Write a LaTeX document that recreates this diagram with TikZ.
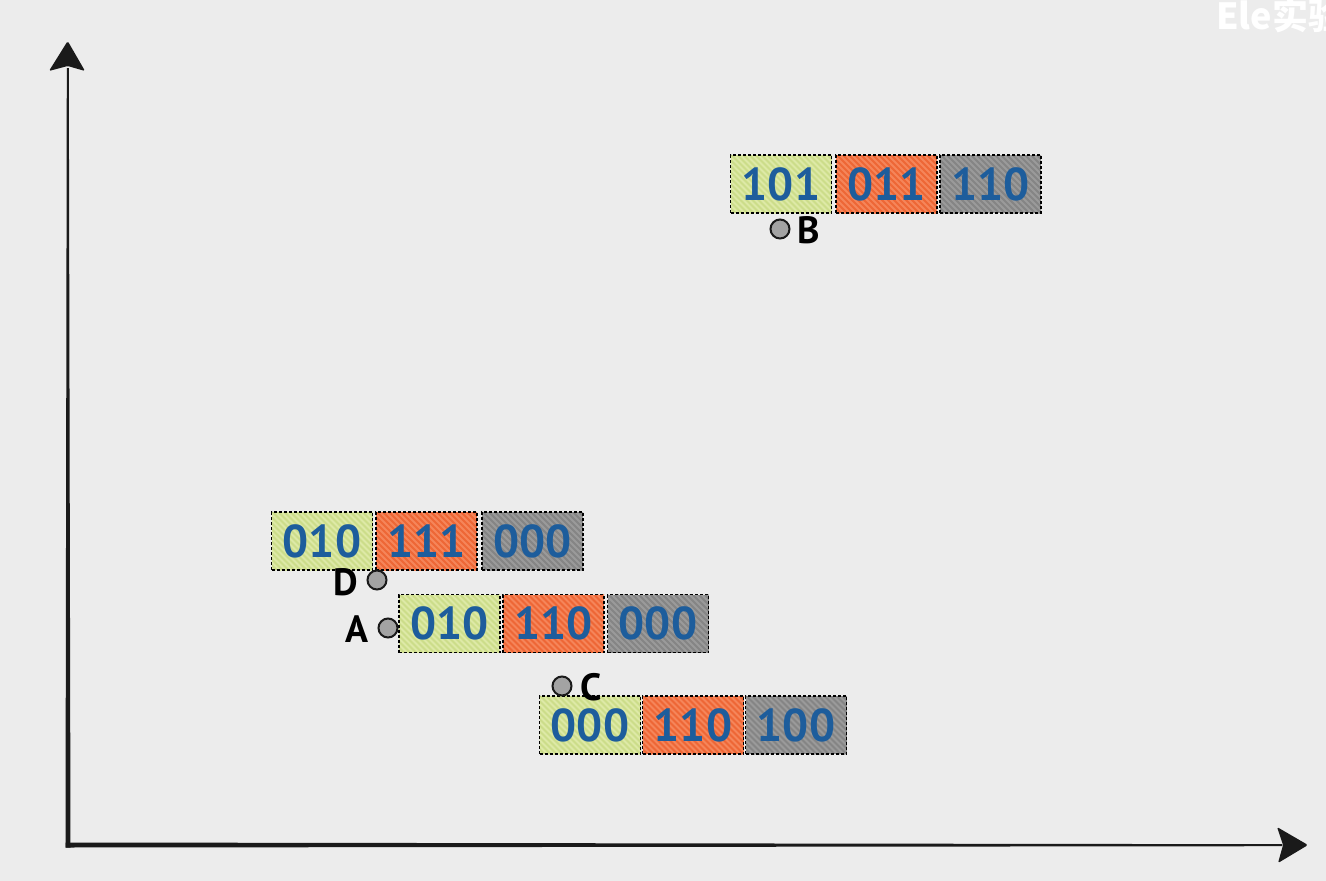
\documentclass[tikz,border=0pt]{standalone}
\usepackage{fontspec}
\newfontfamily\ptsans{PT Sans}
\newfontfamily\cjkf{Noto Sans CJK SC}
\definecolor{paper}{HTML}{ECECEC}
\definecolor{cgreen}{HTML}{CCDD8A}
\definecolor{cgreenL}{HTML}{DDE9A6}
\definecolor{corange}{HTML}{EE6736}
\definecolor{corangeL}{HTML}{F5855A}
\definecolor{cgray}{HTML}{858585}
\definecolor{cgrayL}{HTML}{9A9A9A}
\definecolor{digblue}{HTML}{1D5D9C}
\definecolor{ink}{HTML}{1A1A1A}
\definecolor{dotgray}{HTML}{A3A3A3}
\tikzset{
  cell/.style={draw=black, densely dashed, line width=1.2pt, minimum width=101pt,
    minimum height=58pt, inner sep=0pt, text=digblue,
    font=\ptsans\bfseries\fontsize{46}{46}\selectfont,
    path picture={\foreach \i in {-62,-56,...,104}
      \draw[solid, line width=1.8pt, #1] ([xshift=\i pt]path picture bounding box.north west) -- ++(64,64);}},
  gcell/.style={cell=cgreenL, fill=cgreen},
  ocell/.style={cell=corangeL, fill=corange},
  ycell/.style={cell=cgrayL, fill=cgray},
  dot/.style={circle, draw=ink, line width=2pt, fill=dotgray, minimum size=19pt, inner sep=0pt},
  lbl/.style={text=black, inner sep=0pt, font=\ptsans\bfseries\fontsize{38}{38}\selectfont},
}
\begin{document}
\begin{tikzpicture}[x=1pt,y=-1pt]
\useasboundingbox (0,0) rectangle (1326,881);
\fill[paper] (0,0) rectangle (1326,881);
\begin{scope}
\clip (0,0) rectangle (1326,881);
\node[anchor=base west, text=white, inner sep=0pt, font=\cjkf\bfseries\fontsize{36}{36}\selectfont] (wm) at (1216,29) {Ele实验};
\end{scope}
% axes
\coordinate (O) at (68,845);
\coordinate (ytip) at (67.7,41);
\coordinate (xtip) at (1308,845);
\fill[ink] (65.5,847.5) -- (70.5,847.5) -- (68.8,68) -- (66.8,68) -- cycle;
\fill[ink] (65.5,842.5) -- (65.5,847.5) -- (1282,846.2) -- (1282,844.2) -- cycle;
\fill[ink, rounded corners=1.5pt] (ytip) -- (85,71) -- (67.7,66) -- (49,71) -- cycle;
\fill[ink, rounded corners=1.5pt] (xtip) -- (1278,863) -- (1283,845) -- (1277,827) -- cycle;
% B group
\node[gcell] (b1) at (781,184) {101};
\node[ocell] (b2) at (886.5,184) {011};
\node[ycell] (b3) at (990.5,184) {110};
% D group
\node[gcell] (d1) at (322,541) {010};
\node[ocell] (d2) at (426.5,541) {111};
\node[ycell] (d3) at (532.5,541) {000};
% A group
\node[gcell] (a1) at (449.5,623.5) {010};
\node[ocell] (a2) at (553.5,623.5) {110};
\node[ycell] (a3) at (658,623.5) {000};
% C group
\node[gcell] (c1) at (590,725) {000};
\node[ocell] (c2) at (693,725) {110};
\node[ycell] (c3) at (796,725) {100};
% points and labels
\node[dot] (pB) at (780,229) {};
\node[dot] (pD) at (377,580) {};
\node[dot] (pA) at (388,628) {};
\node[dot] (pC) at (562,686) {};
\node[lbl] (lB) at (809,230) {B};
\node[lbl] (lD) at (346,582) {D};
\node[lbl] (lA) at (357,629) {A};
\node[lbl] (lC) at (591,687) {C};
\end{tikzpicture}
\end{document}
